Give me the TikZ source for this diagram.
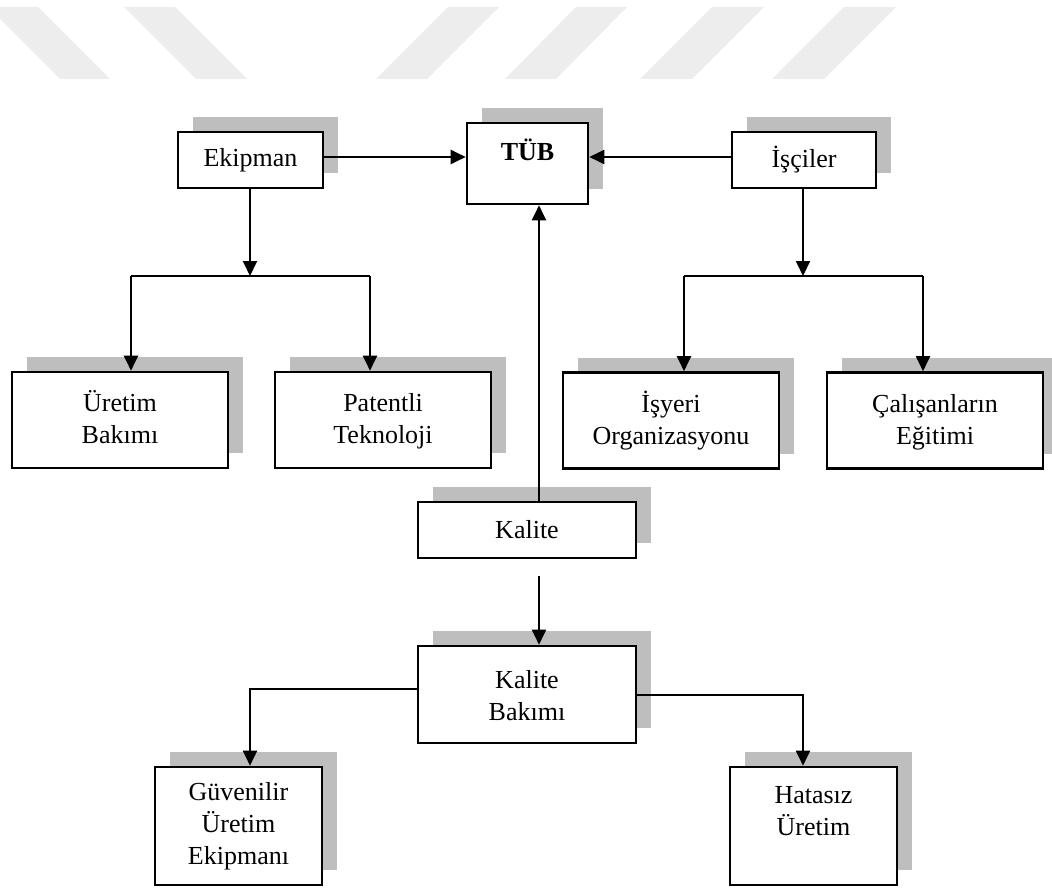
\documentclass[tikz,border=0pt]{standalone}
\usepackage{fontspec}
\setmainfont{Liberation Serif}
\usetikzlibrary{arrows.meta,shadows}
\definecolor{shade}{RGB}{190,190,190}
\definecolor{wmgray}{RGB}{237,237,237}
\newcommand{\tallrow}{\vphantom{Ü}}
\begin{document}
\begin{tikzpicture}[x=1pt,y=-1pt,
  box/.style={draw=black, line width=2.6pt, fill=white, align=center, inner sep=0pt,
    font=\fontsize{26}{32}\selectfont,
    general shadow={fill=shade, shadow xshift=15pt, shadow yshift=15pt}},
  rowbox/.style={box, minimum width=216pt, minimum height=96pt, text depth=6pt},
  arr/.style={line width=2pt, -{Triangle[length=15pt,width=14pt]}},
  link/.style={line width=2pt},
  band/.style={fill=wmgray, draw=none}]
\useasboundingbox (0,0) rectangle (1052,888);

% diagonal bands along the top edge
\fill[band] (-12,7) -- (38,7) -- (110,79) -- (60,79) -- cycle;
\fill[band] (124,7) -- (175,7) -- (247,79) -- (196,79) -- cycle;
\fill[band] (448,7) -- (499,7) -- (427,79) -- (376,79) -- cycle;
\fill[band] (576,7) -- (627,7) -- (556,79) -- (505,79) -- cycle;
\fill[band] (712,7) -- (764,7) -- (692,79) -- (640,79) -- cycle;
\fill[band] (844,7) -- (896,7) -- (824,79) -- (772,79) -- cycle;

% boxes
\node[box, minimum width=145pt, minimum height=56pt] (ekip) at (250.5,160) {Ekipman};
\node[box, minimum width=121pt, minimum height=81pt,
  font=\fontsize{26}{32}\selectfont\bfseries, text height=22pt, text depth=28pt] (tub) at (527.5,163.5) {TÜB};
\node[box, minimum width=144pt, minimum height=56pt] (isc) at (804,160) {İşçiler};
\node[rowbox] (urb) at (120,420) {Üretim\\Bakımı};
\node[rowbox] (pat) at (383,420) {\tallrow Patentli\\Teknoloji};
\node[rowbox] (isy) at (671,420.5) {İşyeri\\Organizasyonu};
\node[rowbox] (cal) at (935,420.5) {\tallrow Çalışanların\\Eğitimi};
\node[box, minimum width=218pt, minimum height=56pt] (kal) at (527,530) {Kalite};
\node[box, minimum width=218pt, minimum height=97pt] (kbk) at (527,694.5) {\tallrow Kalite\\Bakımı};
\node[box, minimum width=167pt, minimum height=118pt] (guv) at (238.5,826) {Güvenilir\\Üretim\\Ekipmanı};
\node[box, minimum width=167pt, minimum height=118pt, text depth=30pt] (hat) at (813.5,826) {Hatasız\\Üretim};

% branch points
\coordinate (bl) at (250,276);
\coordinate (bl1) at (131,276);
\coordinate (bl2) at (370,276);
\coordinate (br) at (803,276);
\coordinate (br1) at (684,276);
\coordinate (br2) at (923,276);
\coordinate (e1) at ([yshift=3pt]ekip.east);
\coordinate (i1) at ([yshift=3pt]isc.west);
\coordinate (k1) at ([xshift=12pt]kal.north);
\coordinate (k2) at ([xshift=12pt]kal.south);
\coordinate (kb1) at ([yshift=6pt]kbk.west);
\coordinate (kb2) at ([yshift=-0.5pt]kbk.east);
\coordinate (g1) at ([xshift=11.5pt]guv.north);
\coordinate (h1) at ([xshift=-10.5pt]hat.north);

% connectors
\draw[arr] (e1) -- (e1 -| tub.west);
\draw[arr] (i1) -- (i1 -| tub.east);
\draw[arr] (k1) -- (k1 |- tub.south);

\draw[arr] (bl |- ekip.south) -- (bl);
\draw[link] (bl1) -- (bl2);
\draw[arr] (bl1) -- (bl1 |- urb.north);
\draw[arr] (bl2) -- (bl2 |- pat.north);

\draw[arr] (br |- isc.south) -- (br);
\draw[link] (br1) -- (br2);
\draw[arr] (br1) -- (br1 |- isy.north);
\draw[arr] (br2) -- (br2 |- cal.north);

\draw[arr, shorten <=17pt] (k2) -- (k2 |- kbk.north);
\draw[arr] (kb1) -| (g1);
\draw[arr] (kb2) -| (h1);
\end{tikzpicture}
\end{document}
